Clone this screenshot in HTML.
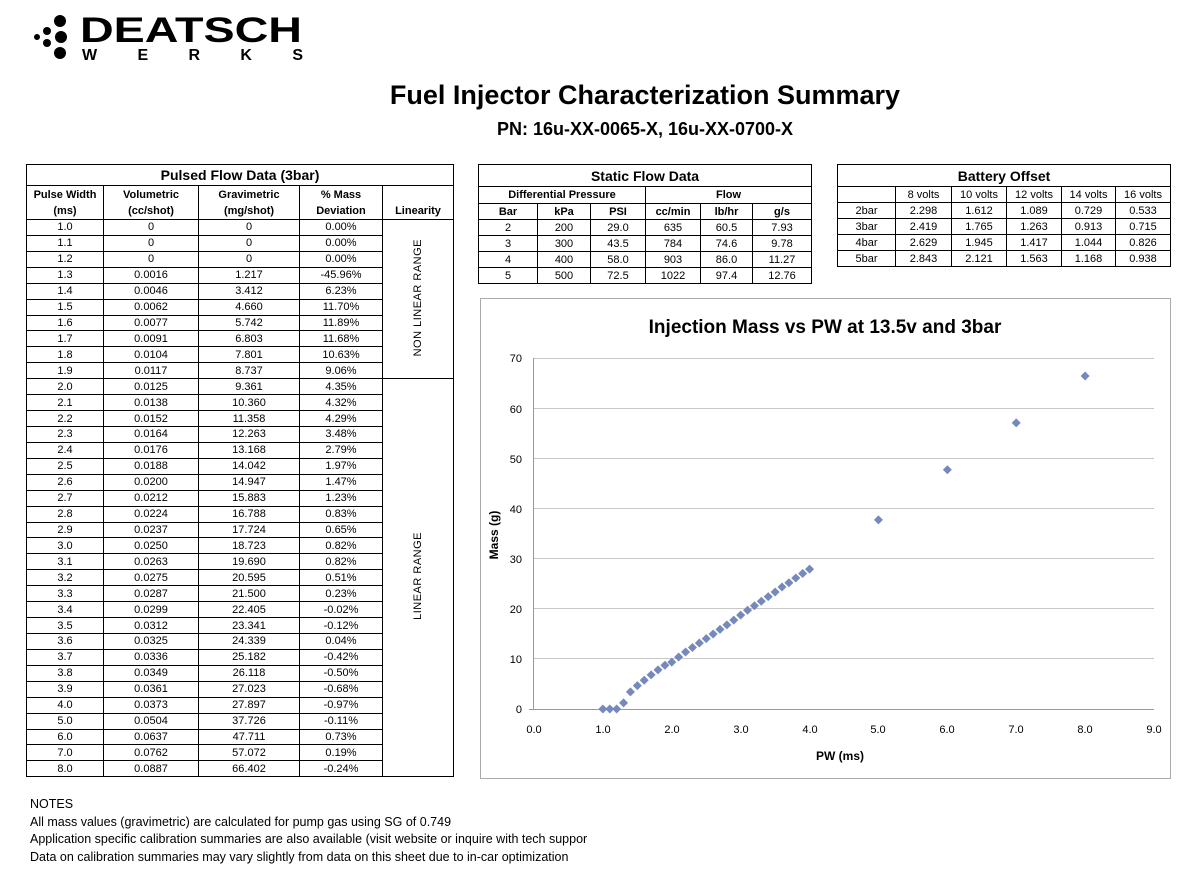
<!DOCTYPE html>
<html><head><meta charset="utf-8">
<style>
body{margin:0;width:1200px;height:880px;background:#fff;position:relative;overflow:hidden;font-family:"Liberation Sans",sans-serif;color:#000}
.abs{position:absolute}
table{border-collapse:collapse;position:absolute;font-size:11px;table-layout:fixed}
td{border:1px solid #000;text-align:center;padding:0;line-height:12px;white-space:nowrap;overflow:hidden}
.t{font-weight:bold;font-size:14px}
.h{font-weight:bold;font-size:11px}
#pf td{height:14.93px}
.vt{writing-mode:vertical-rl;transform:rotate(180deg);display:inline-block;font-size:11px;letter-spacing:0.5px}
</style></head><body>
<svg class="abs" style="left:0;top:0" width="320" height="70">
<circle cx="60" cy="21" r="6"/><circle cx="61" cy="37" r="6"/><circle cx="60" cy="53" r="6"/>
<circle cx="47" cy="31" r="4"/><circle cx="47" cy="43" r="4"/><circle cx="37" cy="37" r="3"/>
<text x="80" y="42" font-family="Liberation Sans" font-weight="bold" font-size="35" textLength="222" lengthAdjust="spacingAndGlyphs">DEATSCH</text>
<text x="82" y="60" font-family="Liberation Sans" font-weight="bold" font-size="16" textLength="221" lengthAdjust="spacing">WERKS</text>
</svg>
<div class="abs" style="left:0;width:1290px;top:80px;text-align:center;font-weight:bold;font-size:27px">Fuel Injector Characterization Summary</div>
<div class="abs" style="left:0;width:1290px;top:119px;text-align:center;font-weight:bold;font-size:18px">PN: 16u-XX-0065-X, 16u-XX-0700-X</div>

<table id="pf" style="left:26px;top:164px;width:427px">
<colgroup><col style="width:77px"><col style="width:95px"><col style="width:101px"><col style="width:83px"><col style="width:71px"></colgroup>
<tr><td colspan="5" class="t" style="height:20px">Pulsed Flow Data (3bar)</td></tr>
<tr><td class="h" style="height:33px;line-height:16px">Pulse Width<br>(ms)</td><td class="h" style="line-height:16px">Volumetric<br>(cc/shot)</td><td class="h" style="line-height:16px">Gravimetric<br>(mg/shot)</td><td class="h" style="line-height:16px">% Mass<br>Deviation</td><td class="h" style="vertical-align:bottom;padding-bottom:2px">Linearity</td></tr>
<tr><td>1.0</td><td>0</td><td>0</td><td>0.00%</td><td rowspan="10"><span class="vt">NON LINEAR RANGE</span></td></tr>
<tr><td>1.1</td><td>0</td><td>0</td><td>0.00%</td></tr>
<tr><td>1.2</td><td>0</td><td>0</td><td>0.00%</td></tr>
<tr><td>1.3</td><td>0.0016</td><td>1.217</td><td>-45.96%</td></tr>
<tr><td>1.4</td><td>0.0046</td><td>3.412</td><td>6.23%</td></tr>
<tr><td>1.5</td><td>0.0062</td><td>4.660</td><td>11.70%</td></tr>
<tr><td>1.6</td><td>0.0077</td><td>5.742</td><td>11.89%</td></tr>
<tr><td>1.7</td><td>0.0091</td><td>6.803</td><td>11.68%</td></tr>
<tr><td>1.8</td><td>0.0104</td><td>7.801</td><td>10.63%</td></tr>
<tr><td>1.9</td><td>0.0117</td><td>8.737</td><td>9.06%</td></tr>
<tr><td>2.0</td><td>0.0125</td><td>9.361</td><td>4.35%</td><td rowspan="25"><span class="vt">LINEAR RANGE</span></td></tr>
<tr><td>2.1</td><td>0.0138</td><td>10.360</td><td>4.32%</td></tr>
<tr><td>2.2</td><td>0.0152</td><td>11.358</td><td>4.29%</td></tr>
<tr><td>2.3</td><td>0.0164</td><td>12.263</td><td>3.48%</td></tr>
<tr><td>2.4</td><td>0.0176</td><td>13.168</td><td>2.79%</td></tr>
<tr><td>2.5</td><td>0.0188</td><td>14.042</td><td>1.97%</td></tr>
<tr><td>2.6</td><td>0.0200</td><td>14.947</td><td>1.47%</td></tr>
<tr><td>2.7</td><td>0.0212</td><td>15.883</td><td>1.23%</td></tr>
<tr><td>2.8</td><td>0.0224</td><td>16.788</td><td>0.83%</td></tr>
<tr><td>2.9</td><td>0.0237</td><td>17.724</td><td>0.65%</td></tr>
<tr><td>3.0</td><td>0.0250</td><td>18.723</td><td>0.82%</td></tr>
<tr><td>3.1</td><td>0.0263</td><td>19.690</td><td>0.82%</td></tr>
<tr><td>3.2</td><td>0.0275</td><td>20.595</td><td>0.51%</td></tr>
<tr><td>3.3</td><td>0.0287</td><td>21.500</td><td>0.23%</td></tr>
<tr><td>3.4</td><td>0.0299</td><td>22.405</td><td>-0.02%</td></tr>
<tr><td>3.5</td><td>0.0312</td><td>23.341</td><td>-0.12%</td></tr>
<tr><td>3.6</td><td>0.0325</td><td>24.339</td><td>0.04%</td></tr>
<tr><td>3.7</td><td>0.0336</td><td>25.182</td><td>-0.42%</td></tr>
<tr><td>3.8</td><td>0.0349</td><td>26.118</td><td>-0.50%</td></tr>
<tr><td>3.9</td><td>0.0361</td><td>27.023</td><td>-0.68%</td></tr>
<tr><td>4.0</td><td>0.0373</td><td>27.897</td><td>-0.97%</td></tr>
<tr><td>5.0</td><td>0.0504</td><td>37.726</td><td>-0.11%</td></tr>
<tr><td>6.0</td><td>0.0637</td><td>47.711</td><td>0.73%</td></tr>
<tr><td>7.0</td><td>0.0762</td><td>57.072</td><td>0.19%</td></tr>
<tr><td>8.0</td><td>0.0887</td><td>66.402</td><td>-0.24%</td></tr>
</table>

<table style="left:478px;top:164px;width:333px">
<colgroup><col style="width:59px"><col style="width:53px"><col style="width:55px"><col style="width:55px"><col style="width:52px"><col style="width:59px"></colgroup>
<tr><td colspan="6" class="t" style="height:21px">Static Flow Data</td></tr>
<tr><td colspan="3" class="h" style="height:16px">Differential Pressure</td><td colspan="3" class="h">Flow</td></tr>
<tr style="height:16px"><td class="h">Bar</td><td class="h">kPa</td><td class="h">PSI</td><td class="h">cc/min</td><td class="h">lb/hr</td><td class="h">g/s</td></tr>
<tr style="height:16px"><td>2</td><td>200</td><td>29.0</td><td>635</td><td>60.5</td><td>7.93</td></tr>
<tr style="height:16px"><td>3</td><td>300</td><td>43.5</td><td>784</td><td>74.6</td><td>9.78</td></tr>
<tr style="height:16px"><td>4</td><td>400</td><td>58.0</td><td>903</td><td>86.0</td><td>11.27</td></tr>
<tr style="height:16px"><td>5</td><td>500</td><td>72.5</td><td>1022</td><td>97.4</td><td>12.76</td></tr>
</table>

<table style="left:837px;top:164px;width:333px">
<colgroup><col style="width:58px"><col style="width:56px"><col style="width:55px"><col style="width:55px"><col style="width:54px"><col style="width:55px"></colgroup>
<tr><td colspan="6" class="t" style="height:21px">Battery Offset</td></tr>
<tr style="height:16px"><td></td><td>8 volts</td><td>10 volts</td><td>12 volts</td><td>14 volts</td><td>16 volts</td></tr>
<tr style="height:16px"><td>2bar</td><td>2.298</td><td>1.612</td><td>1.089</td><td>0.729</td><td>0.533</td></tr>
<tr style="height:16px"><td>3bar</td><td>2.419</td><td>1.765</td><td>1.263</td><td>0.913</td><td>0.715</td></tr>
<tr style="height:16px"><td>4bar</td><td>2.629</td><td>1.945</td><td>1.417</td><td>1.044</td><td>0.826</td></tr>
<tr style="height:16px"><td>5bar</td><td>2.843</td><td>2.121</td><td>1.563</td><td>1.168</td><td>0.938</td></tr>
</table>

<svg class="abs" style="left:480px;top:298px" width="691" height="481" font-family="Liberation Sans" font-size="11">
<rect x="0.5" y="0.5" width="690" height="480" fill="#fff" stroke="#aaa"/>
<text x="345" y="35" text-anchor="middle" font-weight="bold" font-size="19">Injection Mass vs PW at 13.5v and 3bar</text>
<g stroke="#c8c8c8" stroke-width="1">
<line x1="54" x2="674" y1="60.5" y2="60.5"/><line x1="54" x2="674" y1="110.5" y2="110.5"/><line x1="54" x2="674" y1="160.5" y2="160.5"/><line x1="54" x2="674" y1="210.5" y2="210.5"/><line x1="54" x2="674" y1="260.5" y2="260.5"/><line x1="54" x2="674" y1="310.5" y2="310.5"/><line x1="54" x2="674" y1="360.5" y2="360.5"/>
</g>
<g stroke="#999"><line x1="53.5" x2="53.5" y1="60" y2="411"/><line x1="49" x2="674" y1="411.5" y2="411.5"/></g>
<g text-anchor="end"><text x="42" y="415">0</text><text x="42" y="365">10</text><text x="42" y="315">20</text><text x="42" y="265">30</text><text x="42" y="215">40</text><text x="42" y="165">50</text><text x="42" y="115">60</text><text x="42" y="64">70</text></g>
<g text-anchor="middle"><text x="54" y="435">0.0</text><text x="123" y="435">1.0</text><text x="192" y="435">2.0</text><text x="261" y="435">3.0</text><text x="330" y="435">4.0</text><text x="398" y="435">5.0</text><text x="467" y="435">6.0</text><text x="536" y="435">7.0</text><text x="605" y="435">8.0</text><text x="674" y="435">9.0</text></g>
<text x="360" y="462" text-anchor="middle" font-weight="bold" font-size="12">PW (ms)</text>
<text transform="translate(18,237) rotate(-90)" text-anchor="middle" font-weight="bold" font-size="12">Mass (g)</text>
<g id="pts" fill="#7689bd"></g>
</svg>
<script>
var d=[[1,0],[1.1,0],[1.2,0],[1.3,1.217],[1.4,3.412],[1.5,4.66],[1.6,5.742],[1.7,6.803],[1.8,7.801],[1.9,8.737],[2,9.361],[2.1,10.36],[2.2,11.358],[2.3,12.263],[2.4,13.168],[2.5,14.042],[2.6,14.947],[2.7,15.883],[2.8,16.788],[2.9,17.724],[3,18.723],[3.1,19.69],[3.2,20.595],[3.3,21.5],[3.4,22.405],[3.5,23.341],[3.6,24.339],[3.7,25.182],[3.8,26.118],[3.9,27.023],[4,27.897],[5,37.726],[6,47.711],[7,57.072],[8,66.402]];
var g=document.getElementById('pts'),s='';
d.forEach(function(p){var x=54+p[0]*68.89,y=411-p[1]*5.014;s+='<path d="M'+x+' '+(y-4.5)+'L'+(x+4.5)+' '+y+'L'+x+' '+(y+4.5)+'L'+(x-4.5)+' '+y+'Z"/>';});
g.innerHTML=s;
</script>

<div class="abs" style="left:30px;top:796px;font-size:12.5px;line-height:17.5px">NOTES<br>All mass values (gravimetric) are calculated for pump gas using SG of 0.749<br>Application specific calibration summaries are also available (visit website or inquire with tech suppor<br>Data on calibration summaries may vary slightly from data on this sheet due to in-car optimization</div>
</body></html>
